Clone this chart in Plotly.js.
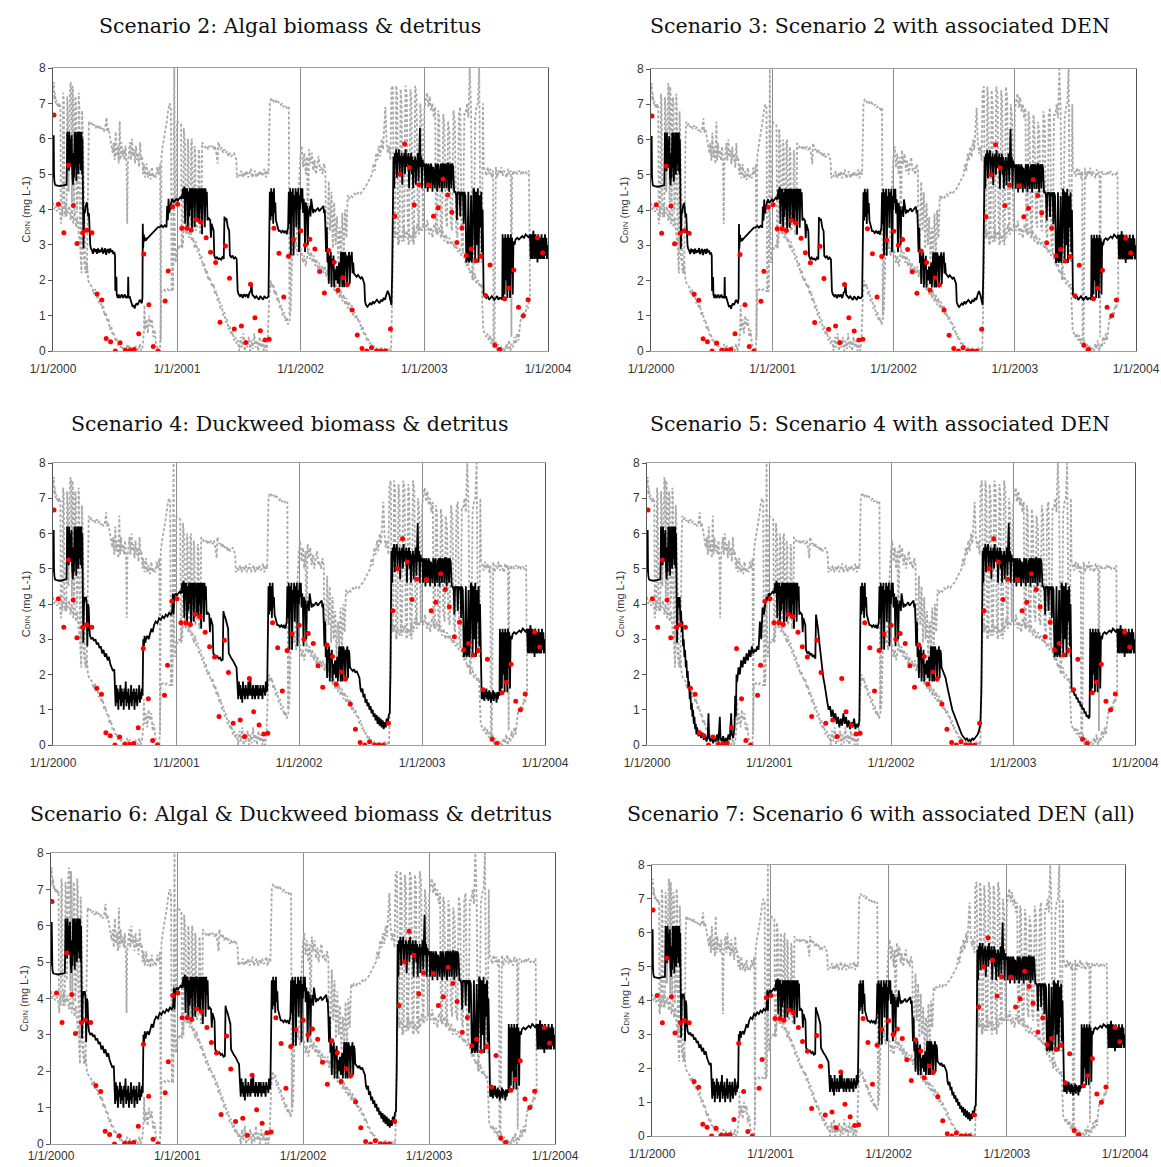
<!DOCTYPE html>
<html><head><meta charset="utf-8">
<script src="https://cdn.plot.ly/plotly-3.0.1.min.js"></script>
<style>html,body{margin:0;padding:0;background:#fff}#chart{width:1161px;height:1167px}</style>
</head><body><div id="chart"></div>
<script>
// x values: days since 1/1/2000
const yearTicks = [0, 366, 731, 1096, 1461];
const yearLabels = ['1/1/2000', '1/1/2001', '1/1/2002', '1/1/2003', '1/1/2004'];
const scenarioTitles = [
  'Scenario 2: Algal biomass & detritus',
  'Scenario 3: Scenario 2 with associated DEN',
  'Scenario 4: Duckweed biomass & detritus',
  'Scenario 5: Scenario 4 with associated DEN',
  'Scenario 6: Algal & Duckweed biomass & detritus',
  'Scenario 7: Scenario 6 with associated DEN (all)'
];

// observed DIN (red dots)
const obsDay = [3,16,32,46,60,71,88,100,115,130,144,157,170,184,198,214,228,240,253,268,283,296,310,331,340,353,
  368,380,395,408,423,437,452,465,480,493,509,521,535,556,569,583,596,612,626,638,652,667,681,695,710,
  731,745,758,773,787,801,814,830,841,856,869,883,898,912,926,940,955,968,981,996,1009,1024,1038,1052,1066,1080,
  1109,1123,1137,1151,1165,1177,1192,1207,1220,1234,1248,1263,1277,1290,1304,1318,1333,1346,1360,1374,1388,1402,1430,1445];
const obsVal = [6.67,4.15,3.34,5.25,4.11,3.04,3.34,3.41,3.34,1.61,1.44,0.35,0.26,0.0,0.23,0.02,0.02,0.04,0.49,2.74,1.31,0.13,0.0,1.41,2.26,4.08,
  4.15,3.47,3.47,3.42,3.71,3.64,3.20,2.79,2.50,0.81,2.97,2.06,0.62,0.71,0.24,1.89,0.94,0.57,0.31,0.33,3.47,2.76,1.53,2.68,3.15,
  3.40,3.00,3.16,2.88,2.25,1.64,2.84,2.51,1.72,2.07,1.88,1.16,0.45,0.07,0.0,0.09,0.0,0.0,0.0,0.62,3.81,5.00,5.85,5.19,4.13,4.70,
  4.69,3.81,4.05,4.86,4.41,3.92,3.07,3.48,2.70,2.88,2.55,2.68,1.57,2.43,0.16,0.04,1.48,1.78,2.29,1.24,1.00,1.45,3.20,2.78];

// ---- modelled DIN, black line: shared periods ----
const blk_w00 = [[0,5.9],[1,4.9],[2,6.1],[3,5.0],[4,4.8],[6,4.7],[10,4.68],[20,4.66],[30,4.68],[40,4.7],[41,5.2],[42,6.2],[44,5.3],[45,6.1],[47,5.1],[48,6.2],[50,5.4],[51,6.0],[53,5.2],[55,6.1],[57,5.0],[59,4.7],[61,5.6],[62,4.9],[64,6.2],[65,5.2],[67,6.2],[69,4.8],[70,6.1],[72,5.5],[73,6.2],[75,5.0],[77,6.2],[79,5.3],[80,6.2],[82,5.1],[84,6.2],[86,5.0],[87,6.0]];
const blk_w01 = [[368,4.25],[372,4.3],[376,4.35],[380,4.3],[384,4.6],[386,4.3],[388,4.65],[390,3.6],[392,4.6],[394,4.4],[396,4.6],[398,3.5],[400,4.5],[402,3.8],[404,4.6],[406,4.0],[408,4.6],[410,3.4],[412,4.6],[414,4.2],[416,4.6],[418,3.5],[420,4.6],[422,4.3],[424,4.6],[426,3.7],[428,4.5],[430,4.6],[432,3.6],[434,4.6],[436,4.0],[438,4.6],[440,3.3],[442,4.6],[444,4.2],[446,4.6],[448,3.5],[450,4.6],[452,4.1],[454,4.5],[456,3.7],[460,3.75],[464,3.7],[466,3.2],[468,3.6],[472,3.5],[474,3.4]];
const blk_w02 = [[638,3.0],[640,4.5],[642,3.7],[644,4.6],[646,3.8],[648,4.5],[650,3.6],[652,4.6],[654,3.9],[656,4.2],[658,3.7],[662,3.5],[666,3.4],[670,3.4],[674,3.35],[678,3.4],[682,3.35],[686,3.4],[690,3.3],[694,3.5],[696,4.5],[698,3.6],[700,4.6],[702,2.7],[704,4.5],[706,3.8],[708,4.6],[710,2.7],[712,4.4],[714,4.0],[716,4.6],[718,3.5],[720,4.5],[722,4.1],[724,4.6],[726,2.8],[728,4.4],[730,4.0],[732,4.6],[734,4.2],[736,4.6],[738,3.9],[740,4.3],[742,4.0],[744,2.8],[746,4.2],[748,4.0],[750,4.1],[752,3.0],[754,4.0],[756,3.9],[758,4.1],[760,3.8],[762,4.3],[764,4.2],[766,4.0],[768,3.9],[770,4.0],[774,3.95],[778,4.0],[782,4.05],[786,3.95],[790,4.0],[794,4.05],[798,4.1],[800,3.9],[802,4.0],[804,3.5],
  [806,2.8],[808,3.5],[810,2.5],[812,2.8],[814,1.9],[816,2.7],[818,2.5],[820,2.8],[822,1.8],[824,2.6],[826,2.4],[828,2.7],[830,1.8],[832,2.3],[834,2.0],[836,2.3],[838,2.4],[840,1.9],[842,2.3],[844,2.5],[846,1.8],[848,2.4],[850,2.8],[852,2.7],[854,1.8],[856,2.8],[858,2.6],[860,1.8],[862,2.8],[864,2.7],[866,2.5],[868,1.8],[870,2.7],[872,2.6],[874,2.8],[876,1.9],[878,2.7],[880,2.6]];
const blk_w03 = [[1003,4.5],[1005,5.5],[1007,4.6],[1009,5.6],[1011,5.3],[1013,5.7],[1015,4.9],[1017,5.6],[1019,5.4],[1021,5.7],[1023,5.0],[1025,5.5],[1027,5.3],[1029,5.6],[1031,4.7],[1033,5.5],[1035,5.4],[1037,5.6],[1039,5.0],[1041,5.7],[1043,5.2],[1045,5.5],[1047,5.3],[1049,5.6],[1051,4.6],[1053,5.5],[1055,5.2],[1057,5.6],[1059,5.0],[1061,5.5],[1063,4.6],[1065,5.4],[1067,5.2],[1069,5.5],[1071,4.7],[1073,5.4],[1075,5.3],[1077,5.6],[1079,4.8],[1081,5.5],[1083,6.3],[1085,5.2],[1087,5.5],[1089,4.6],[1091,5.4],
  [1094,5.2],[1097,5.3],[1099,4.6],[1101,5.3],[1104,5.2],[1106,4.5],[1108,5.3],[1111,5.1],[1113,4.6],[1115,5.3],[1118,5.2],[1120,4.5],[1122,5.2],[1125,5.0],[1127,4.6],[1129,5.3],[1132,5.2],[1134,4.5],[1136,5.3],[1139,5.0],[1141,4.6],[1143,5.2],[1146,5.3],[1148,4.5],[1150,5.3],[1153,5.25],[1155,4.6],[1157,5.3],[1160,5.2],[1162,4.6],[1164,5.3],[1167,5.3],[1169,4.5],[1171,5.2],[1174,5.3],[1176,4.6],[1178,5.3],[1181,5.2],[1184,4.5],
  [1187,4.5],[1190,4.4],[1192,3.7],[1194,4.5],[1197,4.45],[1200,4.5],[1202,3.8],[1204,4.5],[1207,4.4],[1210,4.5],[1212,3.6],[1214,4.5],[1217,4.4],
  [1220,2.5],[1223,2.6],[1226,4.5],[1228,2.5],[1231,2.6],[1234,4.4],[1236,2.5],[1239,3.2],[1241,4.6],[1244,4.5],[1246,2.6],[1249,4.5],[1251,3.0],[1254,4.6],[1256,2.5],[1259,4.4],[1261,3.5],[1264,4.5],[1266,2.8],[1268,4.0]];
const blk_e03 = [[1327,3.3],[1329,1.5],[1331,3.2],[1333,1.6],[1335,3.3],[1337,2.0],[1339,3.2],[1341,1.5],[1343,3.3],[1345,1.8],[1347,3.2],[1349,1.5],[1351,3.3],[1353,2.2],[1355,3.2],[1357,1.6],[1359,3.1],[1362,3.0],[1365,3.15],[1370,3.2],[1375,3.15],[1380,3.2],[1385,3.25],[1390,3.2],[1395,3.3],[1400,3.25],[1404,3.2],[1408,3.3],[1410,2.6],[1412,3.3],[1414,2.6],[1416,3.2],[1418,3.4],[1420,2.6],[1422,3.2],[1424,3.3],[1426,2.6],[1428,3.2],[1430,2.5],[1432,3.3],[1434,3.0],[1436,2.6],[1438,3.2],[1440,2.6],[1442,3.3],[1444,2.9],[1446,2.6],[1448,3.2],[1450,2.6],[1452,3.3],[1454,2.7],[1456,3.2],[1458,2.6],[1460,3.0]];

// ---- scenario-specific periods (A: scen 2/3, B: scen 4/6/7, C: scen 5) ----
const blkA_s00 = [[88,3.2],[89,4.1],[90,2.9],[92,4.0],[94,3.9],[96,4.1],[98,4.2],[100,4.2],[102,4.0],[104,3.8],[106,3.9],[108,3.3],[110,3.0],[112,2.9],[115,2.85],[118,2.75],[121,2.9],[124,2.8],[127,2.88],[130,2.75],[133,2.9],[136,2.78],[139,2.86],[142,2.8],[145,2.92],[148,2.75],[151,2.85],[154,2.9],[157,2.72],[160,2.85],[163,2.88],[166,2.76],[169,2.9],[172,2.8],[175,2.85],[178,2.74],[181,2.8],[183,2.7],[184,1.7],[187,2.1],[188,1.6],[191,1.5],[194,1.6],[197,1.5],[200,1.55],[203,1.6],[206,1.5],[209,1.55],[212,1.6],[215,1.5],[218,1.55],[221,1.5],[222,2.1],[223,1.5],[226,1.55],[229,1.45],[232,1.3],[235,1.25],[238,1.3],[241,1.2],[244,1.3],[247,1.35],[250,1.3],[253,1.4],[256,1.45],[259,1.4],[262,1.35],[264,1.5],[265,3.6],[266,2.9],[268,3.3],[270,3.1],[273,3.2],[276,3.15],[280,3.2],[285,3.25],[290,3.3],[295,3.35],[300,3.4],[305,3.45],[310,3.5],[315,3.5],[320,3.55],[325,3.5],[330,3.55],[335,3.5],[337,4.1],[339,3.7],[341,4.3],[343,3.9],[346,4.1],[349,4.2],[352,4.3],[356,4.2],[360,4.25],[364,4.3]];
const blkB_s00 = [[88,3.2],[89,4.1],[90,2.9],[92,4.0],[94,4.2],[96,4.1],[98,4.2],[100,4.0],[102,2.8],[104,4.0],[106,3.9],[108,3.3],[110,3.1],[114,3.0],[118,3.05],[122,2.95],[126,3.0],[130,2.85],[134,2.9],[138,2.75],[142,2.8],[146,2.6],[150,2.7],[154,2.5],[158,2.6],[162,2.4],[166,2.5],[170,2.3],[174,2.2],[178,2.1],[182,2.15],[184,1.6],[186,1.1],[188,1.7],[190,1.2],[192,1.6],[194,1.0],[196,1.5],[198,1.3],[200,1.7],[202,1.1],[204,1.6],[206,1.2],[208,1.5],[210,1.0],[212,1.6],[214,1.3],[216,1.8],[218,1.1],[220,1.5],[222,1.2],[224,1.6],[226,1.0],[228,1.4],[230,1.2],[232,1.7],[234,1.1],[236,1.5],[238,1.3],[240,1.6],[242,1.0],[244,1.5],[246,1.2],[248,1.6],[250,1.1],[252,1.4],[254,1.3],[256,1.7],[258,1.2],[260,1.5],[262,1.3],[264,1.6],[266,1.4],[268,3.0],[270,2.8],[272,3.1],[274,2.9],[276,3.0],[280,3.1],[284,3.0],[288,3.2],[292,3.3],[296,3.2],[300,3.4],[305,3.5],[310,3.45],[315,3.6],[320,3.55],[325,3.65],[330,3.6],[335,3.7],[340,3.65],[345,3.75],[350,3.7],[354,3.8],[356,4.3],[358,3.7],[360,4.2],[364,4.3]];
const blkC_s00 = [[88,3.2],[89,4.1],[90,2.9],[92,4.0],[94,4.2],[96,3.9],[98,4.2],[100,3.5],[102,3.8],[104,3.2],[106,3.5],[108,2.8],[110,3.0],[112,2.5],[114,2.7],[116,2.2],[118,2.4],[120,1.9],[122,2.1],[124,1.6],[126,1.8],[128,1.3],[130,1.5],[132,1.0],[134,1.2],[136,0.8],[138,1.0],[140,0.6],[142,0.8],[144,0.45],[146,0.6],[148,0.3],[150,0.5],[154,0.25],[158,0.4],[162,0.2],[166,0.35],[170,0.15],[174,0.3],[178,0.1],[182,0.25],[184,0.9],[186,0.2],[190,0.1],[194,0.25],[198,0.05],[202,0.2],[206,0.1],[210,0.3],[214,0.1],[218,0.8],[220,0.2],[224,0.1],[228,0.25],[232,0.05],[236,0.2],[240,0.1],[244,0.3],[248,0.15],[252,0.9],[254,0.3],[258,0.2],[262,0.5],[264,1.4],[266,0.8],[268,2.0],[270,1.8],[274,2.2],[278,2.0],[282,2.4],[286,2.2],[290,2.5],[294,2.3],[298,2.6],[302,2.4],[306,2.7],[310,2.5],[314,2.8],[318,2.6],[322,2.7],[326,2.65],[330,2.8],[334,2.7],[338,3.5],[342,3.0],[346,3.9],[350,3.7],[354,4.0],[358,4.2],[362,4.1],[364,4.3]];

const blkA_s01 = [[476,2.7],[480,2.6],[484,2.65],[488,2.6],[492,2.62],[496,2.58],[500,2.65],[504,2.6],[506,3.8],[508,3.7],[512,3.75],[516,3.5],[520,3.4],[522,2.7],[526,2.65],[530,2.7],[534,2.6],[538,2.65],[542,2.6],[545,1.7],[548,1.6],[552,1.55],[556,1.6],[560,1.5],[564,1.6],[568,1.55],[572,1.6],[576,1.5],[580,1.65],[584,1.7],[586,1.9],[588,1.6],[592,1.55],[596,1.5],[600,1.55],[604,1.5],[608,1.45],[612,1.55],[616,1.5],[620,1.45],[624,1.55],[628,1.5],[632,1.5],[636,1.55]];
const blkB_s01 = [[476,2.6],[480,2.55],[484,2.5],[488,2.52],[492,2.45],[496,2.48],[500,2.4],[504,2.42],[506,3.8],[508,3.7],[512,3.6],[516,3.4],[520,3.3],[522,2.6],[526,2.5],[530,2.45],[534,2.4],[538,2.3],[542,2.25],[545,2.2],[548,1.6],[550,1.3],[552,1.8],[554,1.4],[556,1.7],[558,1.3],[560,1.6],[562,1.2],[564,1.8],[566,1.4],[568,1.6],[570,1.3],[572,1.7],[574,1.4],[576,1.6],[578,1.3],[580,1.8],[582,1.4],[584,1.7],[586,1.9],[588,1.4],[590,1.6],[592,1.3],[594,1.7],[596,1.4],[598,1.6],[600,1.3],[602,1.7],[604,1.5],[606,1.4],[608,1.7],[610,1.3],[612,1.6],[614,1.4],[616,1.7],[618,1.4],[620,1.6],[622,1.3],[624,1.7],[626,1.5],[628,1.6],[630,1.4],[632,1.8],[634,1.5],[636,1.6]];
const blkC_s01 = [[476,2.7],[480,2.6],[484,2.65],[488,2.55],[492,2.6],[496,2.5],[500,2.55],[504,2.45],[506,3.7],[508,3.6],[512,3.3],[516,2.9],[520,2.5],[524,2.2],[528,1.9],[532,1.7],[536,1.4],[540,1.2],[544,1.0],[548,1.1],[552,0.8],[556,1.0],[560,0.7],[564,0.9],[568,0.6],[572,0.8],[576,0.5],[580,0.75],[584,0.55],[588,0.9],[592,0.6],[596,0.8],[600,0.5],[604,0.7],[608,0.45],[612,0.65],[616,0.5],[620,0.75],[624,0.45],[628,0.6],[632,0.5],[636,0.7]];

const blkA_s02 = [[882,2.8],[884,2.2],[886,2.5],[888,2.2],[892,2.15],[896,2.1],[900,2.15],[904,2.1],[908,2.05],[912,2.1],[916,2.0],[919,1.9],[921,1.4],[924,1.3],[928,1.25],[932,1.3],[936,1.35],[940,1.3],[944,1.4],[948,1.35],[952,1.4],[956,1.45],[960,1.4],[964,1.35],[968,1.45],[972,1.4],[976,1.5],[980,1.45],[984,1.6],[988,1.7],[992,1.6],[996,1.4],[999,1.3],[1001,2.2]];
const blkB_s02 = [[882,2.2],[886,2.15],[890,2.1],[894,2.15],[898,2.05],[902,2.1],[906,2.0],[910,1.9],[913,1.6],[916,1.5],[919,1.6],[922,1.35],[925,1.45],[928,1.2],[931,1.3],[934,1.1],[937,1.2],[940,1.0],[943,1.1],[946,0.9],[949,1.0],[952,0.8],[955,0.9],[958,0.7],[961,0.85],[964,0.6],[967,0.8],[970,0.55],[973,0.75],[976,0.5],[979,0.7],[982,0.45],[985,0.65],[988,0.5],[991,0.75],[994,0.6],[997,0.85],[1000,0.9],[1002,2.0]];
const blkC_s02 = [[882,2.2],[886,2.1],[890,2.0],[894,1.9],[898,1.7],[902,1.5],[906,1.3],[910,1.15],[914,1.0],[918,0.9],[922,0.8],[926,0.65],[930,0.55],[934,0.45],[938,0.35],[942,0.3],[946,0.25],[950,0.2],[954,0.15],[958,0.2],[962,0.1],[966,0.15],[970,0.1],[974,0.2],[978,0.15],[982,0.2],[986,0.25],[990,0.3],[994,0.4],[998,0.6],[1001,1.5]];

const blkA_s03 = [[1271,1.6],[1275,1.55],[1279,1.5],[1283,1.55],[1287,1.45],[1291,1.5],[1295,1.55],[1299,1.5],[1303,1.45],[1307,1.5],[1311,1.55],[1315,1.45],[1319,1.5],[1323,1.5],[1326,1.45]];
const blkB_s03 = [[1271,1.6],[1273,1.3],[1275,1.55],[1277,1.3],[1279,1.6],[1281,1.25],[1283,1.55],[1285,1.35],[1287,1.6],[1289,1.3],[1291,1.5],[1293,1.25],[1295,1.55],[1297,1.3],[1299,1.5],[1301,1.2],[1303,1.45],[1305,1.3],[1307,1.55],[1309,1.25],[1311,1.5],[1313,1.35],[1315,1.45],[1317,1.2],[1319,1.5],[1321,1.3],[1323,1.5],[1326,1.4]];
const blkC_s03 = [[1271,1.6],[1274,1.5],[1277,1.55],[1280,1.4],[1283,1.45],[1286,1.3],[1289,1.35],[1292,1.2],[1295,1.25],[1298,1.1],[1301,1.15],[1304,1.0],[1307,1.05],[1310,0.9],[1313,0.95],[1316,0.8],[1319,0.85],[1322,0.75],[1325,0.8]];

// ---- gray dashed bounds ----
const grayUpper = [[0,7.4],[2,7.6],[4,7.1],[6,7.3],[8,7.0],[10,7.1],[12,6.95],[14,7.0],[16,6.9],[18,7.0],[20,6.9],[22,6.95],[23,4.1],[26,4.0],[28,3.8],[30,7.3],[32,7.1],[34,4.0],[38,4.2],[40,3.8],[42,7.2],[44,6.8],[46,4.5],[50,7.3],[52,7.6],[54,7.4],[56,4.2],[58,7.5],[60,7.0],[62,4.0],[66,7.2],[68,7.0],[70,3.9],[74,4.5],[76,7.3],[78,6.9],[80,3.0],[84,2.2],[86,6.8],[88,6.2],[95,2.5],[100,2.2],[104,6.0],[106,6.5],[110,6.4],[114,6.45],[118,6.35],[122,6.4],[126,6.3],[130,6.4],[134,6.3],[138,6.35],[142,6.25],[146,6.3],[150,6.2],[154,6.3],[158,6.6],[160,6.2],[164,6.3],[168,6.1],[172,5.9],[176,5.6],[179,5.9],[182,5.4],[185,6.2],[188,5.5],[191,5.8],[194,5.3],[197,6.5],[199,5.4],[202,5.9],[205,5.5],[208,5.7],[211,5.4],[214,5.8],[217,5.3],[219,3.6],[221,5.3],[224,5.6],[227,5.9],[230,5.4],[233,6.0],[236,5.5],[239,5.7],[242,5.3],[245,5.8],[248,5.4],[251,5.6],[254,5.2],[257,5.9],[260,5.4],[263,5.5],[266,5.0],[268,5.3],[272,4.9],[276,5.3],[280,4.9],[284,5.1],[288,4.85],[292,5.2],[296,4.9],[300,5.0],[304,4.9],[308,5.2],[312,5.0],[316,5.3],[318,0.3],[320,5.5],[324,5.8],[328,6.0],[332,6.3],[336,6.5],[340,6.8],[344,7.0],[348,6.9],[350,1.7],[354,1.7],[356,8.0],[358,8.0],[360,4.1],[364,4.2],
  [366,6.5],[372,6.45],[378,6.4],[380,2.9],[384,3.0],[386,6.3],[388,6.0],[390,5.8],[392,3.5],[396,3.6],[398,6.0],[400,5.7],[402,3.4],[406,3.7],[408,5.9],[410,6.0],[412,3.5],[416,3.9],[418,5.8],[420,5.6],[422,3.4],[428,3.6],[430,5.7],[432,5.5],[434,3.3],[438,3.5],[440,5.9],[442,5.85],[446,5.8],[450,5.75],[454,5.8],[458,5.7],[462,5.8],[466,5.75],[470,5.8],[474,5.7],[478,5.8],[482,5.6],[486,5.3],[488,5.9],[490,5.8],[494,5.7],[498,5.75],[502,5.6],[506,5.7],[510,5.6],[514,5.65],[518,5.5],[522,5.6],[526,5.5],[530,5.55],[534,5.6],[538,5.5],[541,5.4],[543,4.9],[548,5.0],[552,4.95],[556,5.1],[560,4.9],[564,5.05],[568,4.95],[572,5.1],[576,4.9],[580,5.0],[584,5.15],[588,4.9],[592,5.0],[596,5.1],[600,4.9],[604,5.05],[608,4.95],[612,5.1],[616,4.95],[620,5.0],[624,5.15],[628,4.9],[632,5.1],[636,5.0],[638,6.0],[640,7.0],[644,7.15],[648,7.1],[652,7.05],[656,7.1],[660,7.0],[664,7.05],[668,7.0],[672,6.95],[676,7.0],[680,6.9],[684,6.95],[688,6.9],[692,6.85],[696,6.9],[698,1.0],[702,3.0],[710,3.2],[718,3.0],[726,4.5],[730,5.5],
  [734,5.8],[738,5.2],[742,5.6],[746,5.0],[750,5.5],[752,2.8],[756,5.7],[760,5.3],[764,5.6],[768,5.1],[772,5.4],[776,5.0],[780,5.3],[784,5.5],[788,5.1],[792,5.2],[796,5.0],[800,5.3],[804,5.1],[806,3.0],[810,3.2],[814,4.8],[818,3.4],[822,4.5],[826,2.9],[830,4.2],[834,3.0],[838,3.8],[842,2.5],[846,3.5],[850,2.8],[854,3.9],[858,2.6],[862,4.0],[866,3.2],[870,4.4],[874,4.3],[878,4.4],[884,4.35],[890,4.45],[896,4.4],[902,4.5],[908,4.45],[914,4.55],[920,4.6],[926,4.7],[932,4.8],[937,4.9],[942,5.0],[946,5.3],[950,5.1],[954,5.6],[958,5.4],[962,5.8],[966,5.5],[970,6.0],[974,5.7],[978,6.4],[981,6.9],[984,6.0],[988,5.6],[992,5.8],[996,5.4],[999,7.4],[1003,7.5],[1006,3.5],[1010,3.2],[1013,7.5],[1016,7.2],[1019,3.0],[1023,3.3],[1026,7.4],[1029,7.0],[1032,3.4],[1036,3.1],[1040,7.5],[1044,7.3],[1047,3.6],[1051,3.2],[1055,7.4],[1058,7.1],[1061,3.5],[1065,3.0],[1069,7.5],[1073,7.2],[1076,4.0],[1080,3.4],[1084,7.0],[1088,6.5],[1092,3.5],
  [1096,6.8],[1100,7.1],[1104,7.3],[1108,6.9],[1112,7.2],[1116,6.8],[1120,7.0],[1124,6.6],[1128,6.9],[1130,3.4],[1134,3.3],[1137,6.8],[1140,6.6],[1144,3.6],[1148,3.3],[1152,6.7],[1155,6.4],[1159,3.8],[1163,3.5],[1166,6.5],[1170,6.2],[1174,3.6],[1178,3.4],[1182,6.8],[1186,6.5],[1190,3.4],[1194,3.2],[1198,6.7],[1202,6.9],[1206,3.0],[1210,2.8],[1214,6.7],[1218,6.7],[1222,7.0],[1226,6.6],[1230,8.0],[1234,6.8],[1238,2.0],[1242,2.5],[1246,6.6],[1250,6.9],[1254,7.0],[1258,8.0],[1262,2.6],[1266,2.5],[1269,7.0],[1271,5.2],[1275,5.1],[1279,4.95],[1283,5.2],[1287,5.0],[1291,5.15],[1295,4.9],[1299,5.1],[1300,0.3],[1303,0.2],[1305,5.0],[1307,5.2],[1311,4.9],[1315,5.1],[1319,5.0],[1323,5.2],[1327,4.95],[1331,5.1],[1335,5.0],[1339,4.9],[1343,5.15],[1347,5.0],[1351,5.1],[1353,0.4],[1355,4.95],[1359,5.1],[1363,5.0],[1367,5.05],[1371,5.0],[1375,5.1],[1380,5.0],[1385,5.1],[1390,5.0],[1395,5.05],[1400,5.0],[1405,5.1],[1408,1.4]];
const grayLower = [[0,4.2],[4,4.0],[8,4.1],[12,3.95],[16,4.05],[20,4.0],[24,3.6],[26,4.0],[30,4.1],[33,4.0],[36,3.8],[40,4.0],[44,3.9],[48,4.1],[52,3.7],[56,4.0],[60,3.6],[64,4.0],[68,3.5],[72,3.8],[76,3.3],[80,3.0],[84,3.2],[88,2.8],[92,2.6],[96,2.2],[100,2.5],[104,2.0],[108,1.9],[112,1.85],[116,1.8],[120,1.6],[124,1.75],[128,1.5],[132,1.6],[136,1.35],[140,1.45],[144,1.2],[148,1.3],[152,1.0],[156,1.1],[160,0.85],[164,0.9],[168,0.6],[172,0.7],[176,0.45],[180,0.5],[184,0.3],[188,0.35],[192,0.15],[196,0.25],[200,0.1],[204,0.15],[208,0.0],[212,0.1],[216,0.0],[220,0.2],[224,0.05],[228,0.15],[232,0.0],[236,0.1],[240,0.0],[244,0.15],[248,0.05],[252,0.0],[256,0.2],[260,0.0],[264,0.1],[268,0.5],[270,1.3],[272,0.6],[276,0.9],[280,0.5],[284,1.0],[288,0.7],[292,0.9],[296,0.4],[300,0.6],[304,0.2],[308,0.1],[312,0.0],[316,0.0],[320,1.7],[326,1.75],[332,1.7],[338,1.75],[344,1.7],[350,1.7],[354,1.8],[358,4.0],[362,2.5],[366,2.9],
  [370,2.9],[374,3.0],[378,2.95],[382,3.1],[386,3.4],[390,3.5],[394,3.3],[398,3.5],[402,3.2],[406,3.4],[410,3.1],[414,3.2],[418,2.9],[422,3.1],[426,2.8],[430,2.9],[434,2.6],[438,2.7],[442,2.4],[446,2.5],[450,2.2],[454,2.3],[458,2.0],[462,2.1],[466,1.9],[470,1.8],[474,1.9],[478,1.6],[482,1.7],[486,1.4],[490,1.5],[494,1.2],[498,1.3],[502,1.0],[506,1.1],[510,0.8],[514,0.9],[518,0.6],[522,0.7],[526,0.45],[530,0.55],[534,0.3],[538,0.4],[542,0.2],[546,0.3],[550,0.0],[554,0.4],[558,0.1],[562,0.5],[566,0.0],[570,0.3],[574,0.1],[578,0.4],[582,0.0],[586,0.3],[590,0.05],[594,0.5],[598,0.1],[602,0.3],[606,0.0],[610,0.4],[614,0.1],[618,0.3],[622,0.0],[626,0.2],[630,0.0],[634,0.3],[638,1.5],[642,2.0],[646,1.8],[650,1.9],[654,1.6],[658,1.7],[662,1.4],[666,1.5],[670,1.2],[674,1.3],[678,1.0],[682,1.1],[686,0.85],[690,0.95],[694,0.75],[698,0.85],[702,1.2],[706,2.8],[710,3.1],[714,2.9],[718,3.0],[722,2.7],[726,3.2],[730,2.9],
  [734,2.8],[738,2.5],[742,2.7],[746,2.4],[750,2.6],[754,2.9],[758,2.6],[762,2.8],[766,2.5],[770,2.7],[774,2.4],[778,2.6],[782,2.3],[786,2.5],[790,2.2],[794,2.4],[798,2.2],[802,2.4],[806,2.1],[810,2.3],[814,2.0],[818,2.2],[822,1.9],[826,2.1],[830,1.7],[834,1.9],[838,1.6],[842,1.8],[846,1.5],[850,1.7],[854,1.4],[858,1.6],[862,1.3],[866,1.5],[870,1.2],[874,1.4],[878,1.1],[882,1.3],[886,1.0],[890,1.1],[894,0.9],[898,1.0],[902,0.8],[906,0.85],[910,0.6],[914,0.7],[918,0.45],[922,0.5],[926,0.3],[930,0.35],[934,0.2],[938,0.25],[942,0.1],[946,0.15],[950,0.0],[954,0.1],[958,0.0],[962,0.05],[966,0.0],[970,0.1],[974,0.0],[978,0.05],[982,0.0],[986,0.1],[990,0.0],[994,0.05],[998,0.0],[1002,2.0],[1005,3.5],[1010,3.2],[1015,3.4],[1020,3.0],[1025,3.3],[1030,3.1],[1035,3.5],[1040,3.2],[1045,3.4],[1050,3.0],[1055,3.3],[1060,3.1],[1065,3.5],[1070,3.2],[1075,3.6],[1080,3.3],[1085,3.5],[1090,3.4],
  [1095,3.6],[1100,3.4],[1105,3.7],[1110,3.3],[1115,3.5],[1120,3.2],[1125,3.6],[1130,3.4],[1135,3.3],[1140,3.5],[1145,3.2],[1150,3.4],[1155,3.1],[1160,3.3],[1165,3.0],[1170,3.2],[1175,3.0],[1180,3.1],[1185,2.9],[1190,3.0],[1195,2.8],[1200,2.9],[1205,2.7],[1210,2.8],[1215,2.6],[1220,2.4],[1225,2.5],[1230,2.2],[1235,2.3],[1240,2.0],[1245,2.2],[1250,1.9],[1255,2.0],[1260,1.8],[1265,1.9],[1270,0.6],[1274,0.5],[1278,0.4],[1282,0.5],[1286,0.3],[1290,0.45],[1294,0.2],[1298,0.35],[1302,0.1],[1306,0.3],[1310,0.0],[1314,0.2],[1318,0.0],[1322,0.15],[1326,0.0],[1330,0.1],[1334,0.0],[1338,0.2],[1342,0.05],[1346,0.3],[1350,0.0],[1354,0.2],[1358,0.1],[1362,0.4],[1366,0.2],[1370,0.5],[1374,0.3],[1378,0.7],[1382,1.0],[1386,0.9],[1390,1.1],[1394,1.0],[1398,1.3],[1402,1.2],[1406,1.5],[1408,1.4]];

// assemble black series per scenario from the periods above
function joinPeriods(s00, s01, s02, s03) {
  return [].concat(blk_w00, s00, blk_w01, s01, blk_w02, s02, blk_w03, s03, blk_e03);
}
const blackA = joinPeriods(blkA_s00, blkA_s01, blkA_s02, blkA_s03);
const blackB = joinPeriods(blkB_s00, blkB_s01, blkB_s02, blkB_s03);
const blackC = joinPeriods(blkC_s00, blkC_s01, blkC_s02, blkC_s03);
const panelBlack = [blackA, blackA, blackB, blackC, blackB, blackB];

// panel boxes in pixels [left, top, right, bottom]
const W = 1161, H = 1167;
const boxes = [
  [53, 68, 548, 351], [651, 69, 1136, 351],
  [53, 463, 545, 745], [647, 463, 1135, 745],
  [51, 853, 555, 1144], [652, 865, 1125, 1136]
];
const titleY = [26, 26, 424, 424, 814, 814];
const titleX = [290, 880, 290, 880, 291, 881];
const xTickGap = [7, 7, 7, 7, 1, 7];

const traces = [];
const layout = {
  width: W, height: H, margin: {l: 0, r: 0, t: 0, b: 0},
  paper_bgcolor: '#fff', plot_bgcolor: '#fff', showlegend: false,
  annotations: [], font: {family: 'Liberation Sans, Arial, sans-serif', color: '#333'}
};
const xs = p => p.map(d => d[0]);
const ys = p => p.map(d => d[1]);

boxes.forEach((b, i) => {
  const n = i + 1;
  const xa = 'x' + (n === 1 ? '' : n), ya = 'y' + (n === 1 ? '' : n);
  const common = {xaxis: xa, yaxis: ya, hoverinfo: 'skip'};
  traces.push(Object.assign({type: 'scatter', mode: 'lines', x: xs(grayUpper), y: ys(grayUpper),
    line: {color: '#a9a9a9', width: 1.8, dash: '3px,2px'}}, common));
  traces.push(Object.assign({type: 'scatter', mode: 'lines', x: xs(grayLower), y: ys(grayLower),
    line: {color: '#a9a9a9', width: 1.8, dash: '3px,2px'}}, common));
  const blk = panelBlack[i];
  traces.push(Object.assign({type: 'scatter', mode: 'lines', x: xs(blk), y: ys(blk),
    line: {color: '#000', width: 1.8}}, common));
  traces.push(Object.assign({type: 'scatter', mode: 'markers', x: obsDay, y: obsVal,
    marker: {color: '#ff0000', size: 5}}, common));

  const xkey = 'xaxis' + (n === 1 ? '' : n), ykey = 'yaxis' + (n === 1 ? '' : n);
  layout[xkey] = {
    domain: [b[0] / W, b[2] / W], anchor: ya, range: [0, 1461],
    tickmode: 'array', tickvals: yearTicks, ticktext: yearLabels,
    showgrid: true, gridcolor: '#8c8c8c', gridwidth: 1,
    showline: true, linecolor: '#a0a0a0', linewidth: 1, mirror: true,
    ticks: 'outside', ticklen: xTickGap[i], tickcolor: 'rgba(0,0,0,0)',
    zeroline: false, tickfont: {size: 12, color: '#333'}
  };
  layout[ykey] = {
    domain: [1 - b[3] / H, 1 - b[1] / H], anchor: xa, range: [0, 8],
    tickmode: 'linear', tick0: 0, dtick: 1, showgrid: false, zeroline: false,
    showline: true, linecolor: '#555', linewidth: 1, mirror: true,
    ticks: 'outside', ticklen: 4, tickcolor: '#555', tickfont: {size: 12, color: '#333'},
    title: {text: 'C<span style="font-size:8px">DIN</span> (mg L-1)', font: {size: 11, color: '#333'}, standoff: 6}
  };
  layout.annotations.push({
    text: scenarioTitles[i], xref: 'paper', yref: 'paper',
    x: titleX[i] / W, y: 1 - titleY[i] / H,
    xanchor: 'center', yanchor: 'middle', showarrow: false,
    font: {family: 'DejaVu Serif, serif', size: 20.5, color: '#111'}
  });
});

Plotly.newPlot('chart', traces, layout, {staticPlot: true, displayModeBar: false});
</script>
</body></html>
